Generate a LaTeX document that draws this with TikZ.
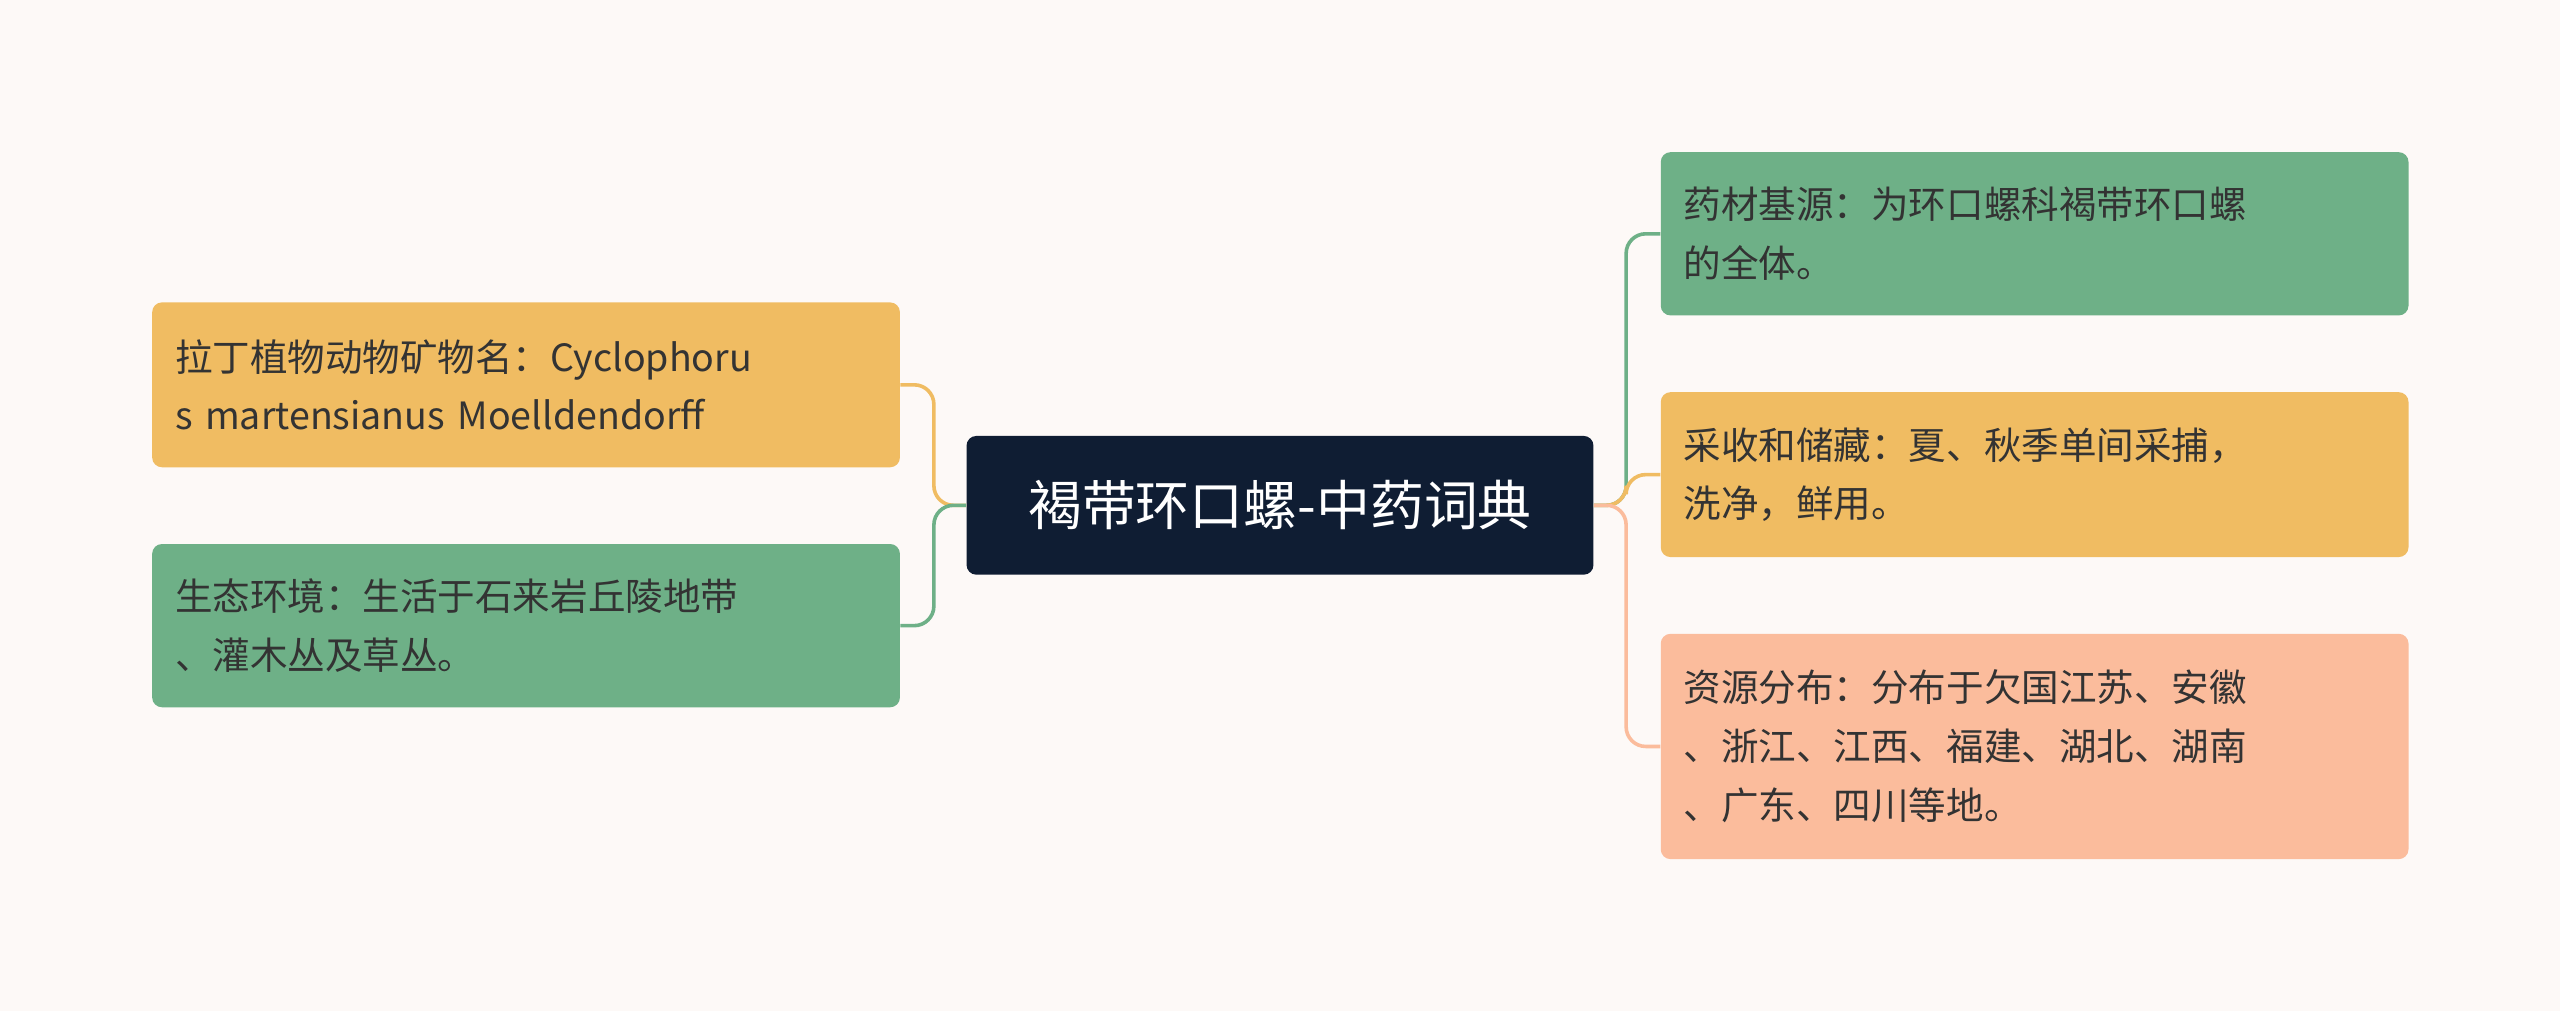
\documentclass[tikz,border=0pt]{standalone}
\usepackage{fontspec}
\setmainfont{Noto Sans CJK SC}
\definecolor{bg}{HTML}{FDF9F7}
\definecolor{navy}{HTML}{0F1D33}
\definecolor{gr}{HTML}{6EB087}
\definecolor{og}{HTML}{F0BC62}
\definecolor{sa}{HTML}{FBBC9C}
\definecolor{tx}{HTML}{333333}
\begin{document}
\begin{tikzpicture}[x=1pt,y=-1pt,
  leaf/.style={rounded corners=6pt,inner xsep=14pt,inner ysep=6pt,text width=430pt,align=left,
    minimum height=#1,anchor=north west,font=\fontsize{23}{36}\selectfont,text=tx},
  con/.style={line width=2.2pt,rounded corners=12pt}]
\fill[bg] (0,0) rectangle (1568,619);
\node[fill=navy,rounded corners=6pt,minimum width=384pt,minimum height=85pt,text=white,
  font=\fontsize{33}{40}\selectfont] (c) at (784,309.5) {褐带环口螺-中药词典};
\node[leaf=101pt,fill=og] (l1) at (93,185) {拉丁植物动物矿物名：Cyclophoru\\s martensianus Moelldendorff};
\node[leaf=100pt,fill=gr] (l2) at (93,333) {生态环境：生活于石来岩丘陵地带\\、灌木丛及草丛。};
\node[leaf=100pt,fill=gr] (r1) at (1017,93) {药材基源：为环口螺科褐带环口螺\\的全体。};
\node[leaf=101pt,fill=og] (r2) at (1017,240) {采收和储藏：夏、秋季单间采捕，\\洗净，鲜用。};
\node[leaf=138pt,fill=sa] (r3) at (1017,388) {资源分布：分布于欠国江苏、安徽\\、浙江、江西、福建、湖北、湖南\\、广东、四川等地。};
\coordinate (lj) at (572,309.5);
\coordinate (rj) at (996,309.5);
\draw[con,og] (c.west) -- (lj) |- (l1.east);
\draw[con,gr] (c.west) -- (lj) |- (l2.east);
\draw[con,gr] (c.east) -- (rj) |- (r1.west);
\draw[con,og] (c.east) -- (rj) |- (r2.west);
\draw[con,sa] (c.east) -- (rj) |- (r3.west);
\end{tikzpicture}
\end{document}
